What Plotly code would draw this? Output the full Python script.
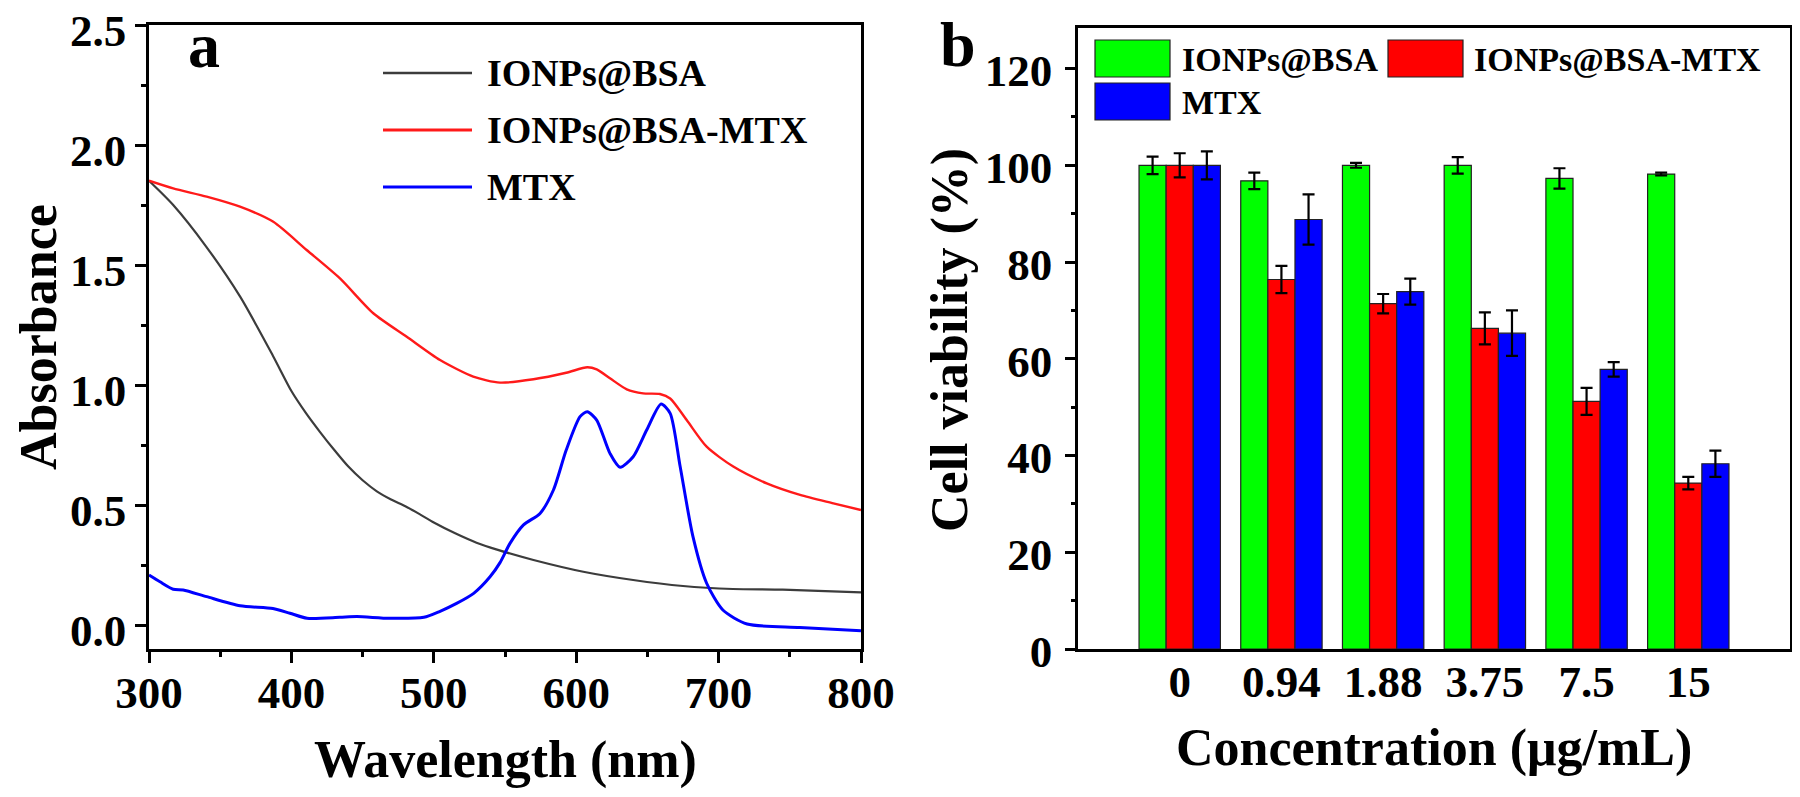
import plotly.graph_objects as go

# ---------------- Panel a: UV-Vis spectra ----------------
wl_bsa = [300, 317, 340, 364, 387, 400, 410, 420, 430, 440, 450, 460, 470, 480, 490, 500,
          515, 530, 545, 570, 605, 640, 675, 710, 745, 800]
abs_bsa = [1.851, 1.75, 1.578, 1.368, 1.122, 0.975, 0.885, 0.805, 0.730, 0.660, 0.603, 0.557,
           0.523, 0.495, 0.462, 0.427, 0.382, 0.343, 0.313, 0.271, 0.222, 0.1875, 0.1625,
           0.150, 0.147, 0.136]

wl_mtxnp = [300, 317, 340.5, 363.9, 387.3, 410.7, 434.1, 457.5, 481, 504.4, 527.7, 546.5, 570,
            593, 607.8, 614.4, 623.7, 635.5, 647, 658.8, 666, 677.6, 691.6, 710.3, 733.8, 757.2,
            780.6, 800]
abs_mtxnp = [1.851, 1.819, 1.785, 1.743, 1.680, 1.5625, 1.444, 1.299, 1.201, 1.104, 1.035, 1.010,
             1.024, 1.051, 1.074, 1.065, 1.028, 0.982, 0.965, 0.9625, 0.944, 0.854, 0.743, 0.660,
             0.590, 0.542, 0.507, 0.479]

wl_mtx = [300, 307.7, 317, 324, 340.5, 364, 387, 399, 411, 434, 446, 469, 493, 504, 516, 528,
          539.5, 546.5, 553.5, 563, 574.6, 584, 593, 602.7, 607.8, 614.4, 623.7, 630.8, 640,
          649.5, 659.6, 666, 673, 682, 691.6, 703, 720, 757, 800]
abs_mtx = [0.208, 0.180, 0.149, 0.146, 0.118, 0.080, 0.069, 0.049, 0.028, 0.032, 0.035, 0.028,
           0.032, 0.056, 0.090, 0.132, 0.201, 0.26, 0.340, 0.417, 0.465, 0.5625, 0.729, 0.868,
           0.889, 0.854, 0.715, 0.657, 0.701, 0.8125, 0.921, 0.882, 0.660, 0.368, 0.174, 0.0625,
           0.004, -0.010, -0.024]

spectra_names = ["IONPs@BSA", "IONPs@BSA-MTX", "MTX"]
spectra_colors = ["#3c3c3c", "#ff1a1a", "#0000ff"]

# ---------------- Panel b: cell viability ----------------
conc_labels = ["0", "0.94", "1.88", "3.75", "7.5", "15"]
via_bsa = [100, 96.8, 100, 100, 97.3, 98.2]
err_bsa = [1.8, 1.7, 0.5, 1.7, 2.1, 0.3]
via_bsa_mtx = [100, 76.4, 71.4, 66.3, 51.2, 34.3]
err_bsa_mtx = [2.5, 2.8, 2.0, 3.3, 2.8, 1.3]
via_mtx = [100, 88.8, 73.9, 65.3, 57.8, 38.3]
err_mtx = [2.9, 5.2, 2.7, 4.7, 1.5, 2.7]
bar_names = ["IONPs@BSA", "IONPs@BSA-MTX", "MTX"]
bar_colors = ["#00ff00", "#ff0000", "#0000ff"]

OFF = 8  # page body margin
W, H = 1800 - 2 * OFF, 797 - 2 * OFF
FONT = "Liberation Serif"


def px(x):
    return (x - OFF) / W


def py(y):
    return 1 - (y - OFF) / H


fig = go.Figure()

for wl, ab, name, col, lw in zip([wl_bsa, wl_mtxnp, wl_mtx], [abs_bsa, abs_mtxnp, abs_mtx],
                                 spectra_names, spectra_colors, [2.2, 2.4, 3]):
    fig.add_trace(go.Scatter(x=wl, y=ab, mode="lines", name=name, showlegend=False,
                             line=dict(color=col, width=lw, shape="spline", smoothing=0.7),
                             xaxis="x", yaxis="y"))

for vals, errs, name, col in zip([via_bsa, via_bsa_mtx, via_mtx], [err_bsa, err_bsa_mtx, err_mtx],
                                 bar_names, bar_colors):
    fig.add_trace(go.Bar(x=conc_labels, y=vals, name=name, showlegend=False,
                         marker=dict(color=col, line=dict(color="#222222", width=1.2)),
                         error_y=dict(type="data", array=errs, visible=True, color="black",
                                      thickness=2.2, width=6),
                         xaxis="x2", yaxis="y2"))

tickfont = dict(family=FONT, size=45, color="black", weight="bold")
common = dict(showline=True, mirror=True, linecolor="black", linewidth=2.5,
              showgrid=False, zeroline=False, tickfont=tickfont, automargin=False,
              ticklabeloverflow="allow", tickcolor="black")

fig.update_layout(
    width=W, height=H,
    margin=dict(l=0, r=0, t=0, b=0),
    paper_bgcolor="white", plot_bgcolor="white",
    barmode="group", bargap=0.2, bargroupgap=0,
    showlegend=False,
    xaxis=dict(domain=[px(149), px(861)], range=[300, 800], anchor="y",
               ticks="outside", ticklen=11, tickwidth=2.5, dtick=100, tick0=300,
               minor=dict(ticks="outside", ticklen=5, tickwidth=2.5, dtick=50, tickcolor="black"),
               ticklabelstandoff=-9, **common),
    yaxis=dict(domain=[py(649), py(25)], range=[-0.1, 2.5], anchor="x",
               ticks="outside", ticklen=11, tickwidth=2.5, dtick=0.5, tick0=0, tickformat=".1f",
               minor=dict(ticks="outside", ticklen=5, tickwidth=2.5, dtick=0.25, tickcolor="black"),
               ticklabelshift=5, **common),
    xaxis2=dict(domain=[px(1078), px(1790)], range=[-1, 6], anchor="y2", type="category",
                ticks="", ticklabelstandoff=-9, **common),
    yaxis2=dict(domain=[py(649), py(28)], range=[0, 128.4], anchor="x2",
                ticks="outside", ticklen=10, tickwidth=2.5, dtick=20, tick0=0,
                minor=dict(ticks="outside", ticklen=4, tickwidth=2.5, dtick=10, tickcolor="black"),
                ticklabelstandoff=4, ticklabelshift=2, **common),
)

title_font = dict(family=FONT, size=52, color="black", weight="bold")
annotations = [
    dict(text="Wavelength (nm)", x=px(505), y=py(760), font=title_font),
    dict(text="Absorbance", x=px(38), y=py(337), textangle=-90, font=title_font),
    dict(text="Concentration (μg/mL)", x=px(1434), y=py(748), font=title_font),
    dict(text="Cell viability (%)", x=px(950), y=py(340), textangle=-90, font=title_font),
    dict(text="a", x=px(204), y=py(46), font=dict(family=FONT, size=64, color="black", weight="bold")),
    dict(text="b", x=px(958), y=py(44), font=dict(family=FONT, size=64, color="black", weight="bold")),
]

shapes = []
# Legend for panel a
leg_a_rows = [73, 130, 187]
for name, col, yy, lw in zip(spectra_names, spectra_colors, leg_a_rows, [2.5, 2.8, 3.2]):
    shapes.append(dict(type="line", xref="paper", yref="paper", x0=px(383), x1=px(472),
                       y0=py(yy), y1=py(yy), line=dict(color=col, width=lw)))
    annotations.append(dict(text=name, x=px(485), y=py(yy), xanchor="left", yanchor="middle",
                            font=dict(family=FONT, size=38, color="black", weight="bold")))

# Legend for panel b
leg_b = [(1095, 40, 1180), (1388, 40, 1472), (1095, 83, 1180)]
for (bx, by, tx), name, col in zip(leg_b, bar_names, bar_colors):
    shapes.append(dict(type="rect", xref="paper", yref="paper", x0=px(bx), x1=px(bx + 75),
                       y0=py(by), y1=py(by + 37), fillcolor=col,
                       line=dict(color="#222222", width=1.2)))
    annotations.append(dict(text=name, x=px(tx), y=py(by + 19), xanchor="left", yanchor="middle",
                            font=dict(family=FONT, size=34, color="black", weight="bold")))

for a in annotations:
    a.setdefault("xref", "paper")
    a.setdefault("yref", "paper")
    a.setdefault("showarrow", False)
    a.setdefault("xanchor", "center")
    a.setdefault("yanchor", "middle")

fig.update_layout(annotations=annotations, shapes=shapes)
fig.write_html("out.html")
